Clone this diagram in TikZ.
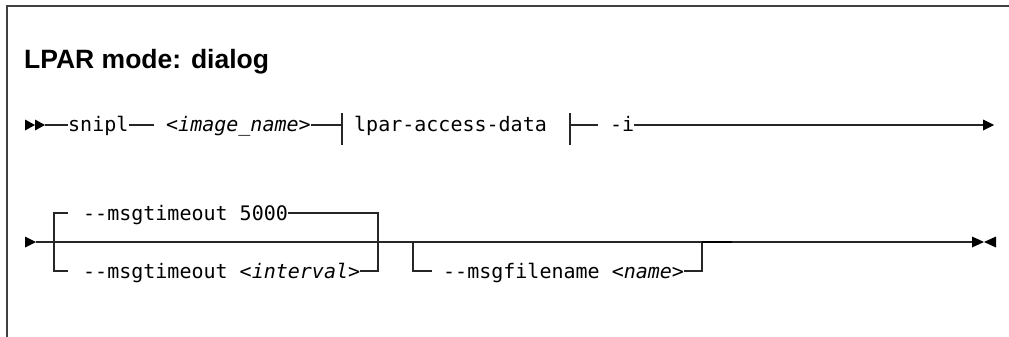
\documentclass[tikz,border=0pt]{standalone}
\usepackage{fontspec}
\setmainfont{Liberation Sans}
\setmonofont{DejaVu Sans Mono}
\begin{document}
\begin{tikzpicture}[x=1pt,y=-1pt,
  rail/.style={line width=1.3pt, draw=black!85},
  railthick/.style={line width=2.4pt, draw=black},
  frameline/.style={line width=2pt, draw=black!75},
  kw/.style={font=\fontsize{20}{24}\selectfont\ttfamily, inner sep=0pt, anchor=base west},
  titletext/.style={font=\fontsize{26.5}{30}\selectfont\bfseries, inner sep=0pt, anchor=base west},
  tipfill/.style={fill=black, draw=none}]
\useasboundingbox (0,0) rectangle (1009,337);
% frame
\draw[frameline] (7,337) -- (7,6) -- (1009,6);
% title
\node[titletext] (title) at (24,69) {LPAR mode: dialog};

% ---------- row 1 ----------
\coordinate (r1) at (0,125);
\coordinate (r1s) at (45,125);
\coordinate (r1e) at (983,125);
\fill[tipfill] (25,119.5) -- (35,125) -- (25,130.5) -- cycle;
\fill[tipfill] (35,119.5) -- (45,125) -- (35,130.5) -- cycle;
\fill[tipfill] (983,119.5) -- (994,125) -- (983,130.5) -- cycle;

\node[kw] (snipl) at (68,131.5) {snipl};
\node[kw] (img) at (166,131.5) {<\textit{image\_name}>};
\node[kw] (lpar) at (354,131.5) {lpar-access-data};
\node[kw] (opti) at (610,131.5) {-i};
\coordinate (tk1) at (342,125);
\coordinate (tk2) at (570,125);

\draw[rail] (r1s) -- (snipl.west |- r1);
\draw[rail] (snipl.east |- r1) -- ([xshift=-12pt]img.west |- r1);
\draw[rail] (img.east |- r1) -- (tk1);
\draw[rail] ([yshift=12pt]tk1) -- ([yshift=-20pt]tk1);
\draw[rail] ([yshift=12pt]tk2) -- ([yshift=-20pt]tk2);
\draw[rail] (tk2) -- ([xshift=-12pt]opti.west |- r1);
\draw[rail] (opti.east |- r1) -- (r1e);

% ---------- row 2 ----------
\coordinate (r2s) at (36,242);
\coordinate (r2e) at (972,242);
\coordinate (up) at (0,213);
\coordinate (lo) at (0,271);
\coordinate (a1) at (54,242);
\coordinate (a2) at (378,242);
\coordinate (a3) at (413,242);
\coordinate (a4) at (702,242);
\fill[tipfill] (25,236.5) -- (36,242) -- (25,247.5) -- cycle;
\fill[tipfill] (972,236.5) -- (984,242) -- (972,247.5) -- cycle;
\fill[tipfill] (996,236.5) -- (984,242) -- (996,247.5) -- cycle;

\node[kw] (mt1) at (83,220) {-{}-msgtimeout 5000};
\node[kw] (mt2) at (83,278) {-{}-msgtimeout <\textit{interval}>};
\node[kw] (mf) at (443,278) {-{}-msgfilename <\textit{name}>};

\draw[rail] (r2s) -- (r2e);
\draw[rail] (a1) |- ([xshift=-15pt]mt1.west |- up);
\draw[rail] (mt1.east |- up) -| (a2);
\draw[rail] (a1) |- ([xshift=-15pt]mt2.west |- lo);
\draw[rail] (mt2.east |- lo) -| (a2);
\draw[rail] (a3) |- ([xshift=-11pt]mf.west |- lo);
\draw[rail] (mf.east |- lo) -| (a4);
\draw[railthick] (a4) -- ([xshift=30pt]a4);
\end{tikzpicture}
\end{document}
